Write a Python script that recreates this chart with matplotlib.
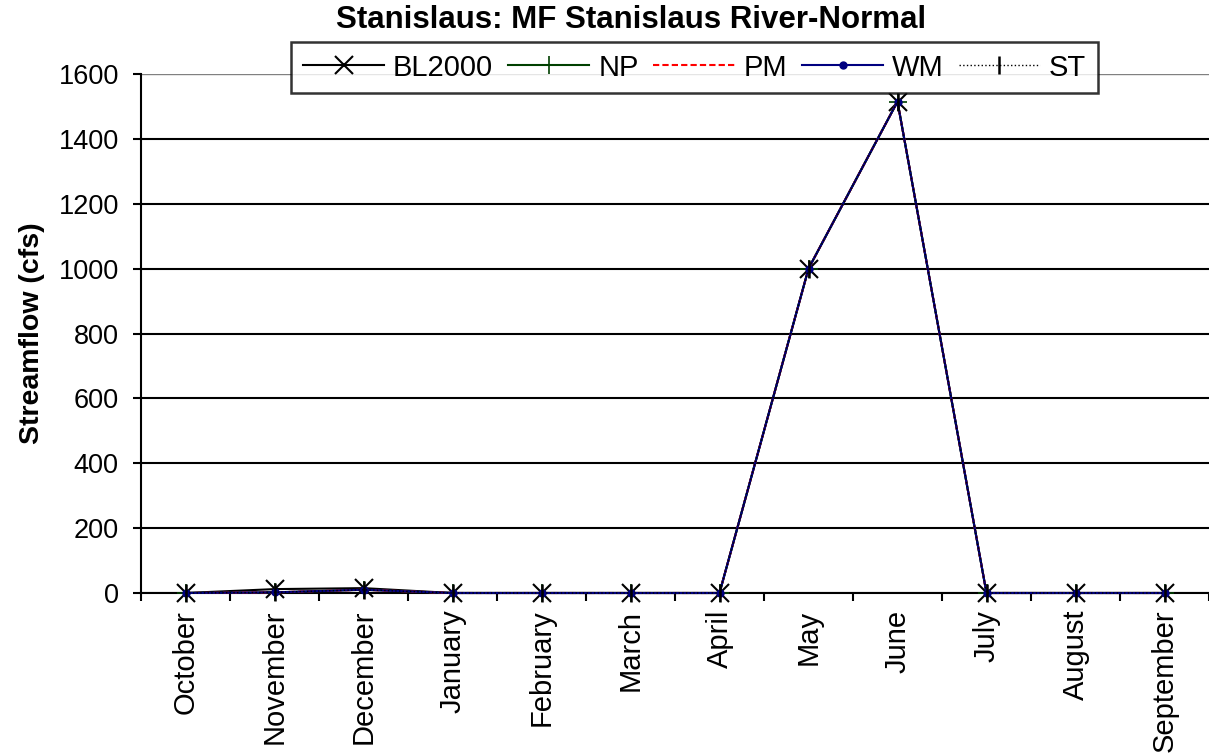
import matplotlib
matplotlib.use('Agg')
import matplotlib.pyplot as plt
import numpy as np

months = ["October", "November", "December", "January", "February", "March",
          "April", "May", "June", "July", "August", "September"]
bl2000 = [0, 12, 15, 0, 0, 0, 0, 1000, 1515, 0, 0, 0]
np_vals = [0, 2, 10, 0, 0, 0, 0, 1000, 1515, 0, 0, 0]
pm_vals = [0, 2, 10, 0, 0, 0, 0, 1000, 1515, 0, 0, 0]
wm_vals = [0, 2, 10, 0, 0, 0, 0, 1000, 1515, 0, 0, 0]
st_vals = [0, 2, 10, 0, 0, 0, 0, 1000, 1515, 0, 0, 0]

plt.rcParams['font.family'] = ['Liberation Sans', 'DejaVu Sans']

fig = plt.figure(figsize=(12.09, 7.55), dpi=100)
ax = fig.add_axes([141 / 1209, 1 - 593 / 755, 1068 / 1209, 519 / 755])

x = np.arange(len(months))
ax.plot(x, bl2000, color="black", marker="x", markersize=13, mew=1.5, lw=1.5,
        label="BL2000", clip_on=False, zorder=3)
ax.plot(x, np_vals, color="#004000", marker="+", markersize=13, mew=1.2, lw=1.5,
        label="NP", clip_on=False, zorder=3)
ax.plot(x, pm_vals, color="red", ls=(0, (3, 1.5)), lw=1.5, label="PM",
        clip_on=False, zorder=3)
ax.plot(x, wm_vals, color="#000080", marker="o", markersize=5, lw=1.5,
        label="WM", clip_on=False, zorder=3)
ax.plot(x, st_vals, color="black", ls=":", marker="|", markersize=13, mew=1.8, lw=1.0,
        label="ST", clip_on=False, zorder=3)

ax.set_xlim(-0.5, len(months) - 0.5)
ax.set_ylim(0, 1600)
ax.set_yticks(range(0, 1601, 200))
ax.yaxis.grid(True, color="black", lw=1.5)
ax.set_axisbelow(True)
ax.yaxis.get_gridlines()[-1].set_color("gray")
ax.yaxis.get_gridlines()[-1].set_linewidth(1.0)
ax.set_xticks(x)
ax.set_xticklabels(months, rotation=90, fontsize=21)
ax.set_xticks(np.arange(-0.5, len(months), 1), minor=True)
ax.tick_params(axis="x", which="major", length=0, pad=12)
ax.tick_params(axis="x", which="minor", length=6, width=1.5, direction="out")
ax.tick_params(axis="y", labelsize=19.5, length=6, width=1.5, direction="out", pad=10)
for s in ["top", "right"]:
    ax.spines[s].set_visible(False)
ax.spines["left"].set_linewidth(1.5)
ax.spines["bottom"].set_linewidth(1.5)

ax.set_ylabel("Streamflow (cfs)", fontsize=20.5, fontweight="bold", labelpad=10)
fig.text(631 / 1209, 1 - 20 / 755, "Stanislaus: MF Stanislaus River-Normal",
         ha="center", va="center", fontsize=22.5, fontweight="bold")

leg = ax.legend(loc="upper left", bbox_to_anchor=((291 - 141) / 1068, (593 - 42) / 519),
                ncol=5, fontsize=21, frameon=True, fancybox=False, edgecolor="black",
                handlelength=2.8, handletextpad=0.3, columnspacing=0.5, borderpad=0.4,
                borderaxespad=0)
leg.get_frame().set_linewidth(1.8)

fig.savefig("out.png", dpi=100)
